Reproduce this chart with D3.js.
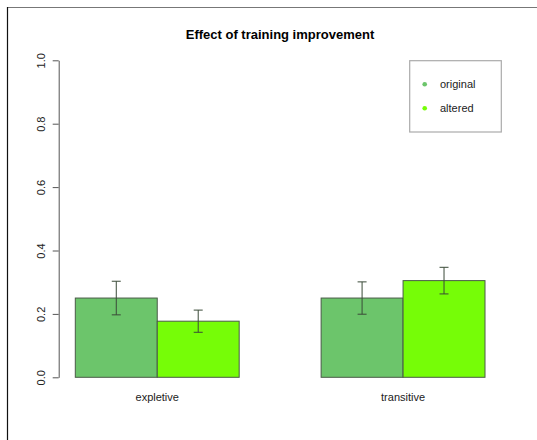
<!DOCTYPE html>
<html>
<head>
<meta charset="utf-8">
<script src="https://cdn.jsdelivr.net/npm/d3@7/dist/d3.min.js"></script>
<style>
  html, body { margin: 0; padding: 0; background: #fff; }
  svg { display: block; font-family: "Liberation Sans", Arial, Helvetica, sans-serif; }
</style>
</head>
<body>
<svg id="chart" width="537" height="440"></svg>
<script>
// Data
const categories = ["expletive", "transitive"];
const seriesNames = ["original", "altered"];
const originalMeans = [0.250, 0.250];
const originalErr = [0.053, 0.051];
const alteredMeans = [0.177, 0.305];
const alteredErr = [0.035, 0.042];
const yTicks = [0.0, 0.2, 0.4, 0.6, 0.8, 1.0];
const colors = ["#6cc56b", "#76fd07"];

const means = [originalMeans, alteredMeans];
const errs = [originalErr, alteredErr];

const svg = d3.select("#chart");

// page frame
svg.append("line").attr("x1", 7).attr("x2", 537).attr("y1", 7.5).attr("y2", 7.5)
  .attr("stroke", "#777").attr("stroke-width", 1.2);
svg.append("line").attr("x1", 7.5).attr("x2", 7.5).attr("y1", 7).attr("y2", 440)
  .attr("stroke", "#111").attr("stroke-width", 1.2);

const y = d3.scaleLinear().domain([0, 1]).range([377.3, 60.3]);
const x0 = d3.scaleBand().domain(categories).range([75.3, 485]).paddingInner(1 / 3).paddingOuter(0);
const x1 = d3.scaleBand().domain(seriesNames).range([0, x0.bandwidth()]);

// title
svg.append("text").attr("x", 280).attr("y", 39).attr("text-anchor", "middle")
  .attr("font-size", 13).attr("font-weight", "bold").attr("fill", "#000")
  .text("Effect of training improvement");

// y axis
const yAxis = svg.append("g").attr("transform", "translate(58.7,0)")
  .call(d3.axisLeft(y).tickValues(yTicks).tickFormat(d3.format(".1f")).tickSize(6).tickSizeOuter(0));
yAxis.select(".domain").attr("stroke", "#555");
yAxis.selectAll(".tick line").attr("stroke", "#555");
yAxis.selectAll(".tick text")
  .attr("font-size", 11).attr("fill", "#222")
  .attr("font-family", "Liberation Sans, Arial, sans-serif")
  .attr("x", 0).attr("dy", "0.35em").attr("text-anchor", "middle")
  .attr("transform", "translate(-17.5,0) rotate(-90)");

// bars with error bars
const groups = svg.append("g").selectAll("g").data(categories).join("g")
  .attr("transform", d => `translate(${x0(d)},0)`);

groups.each(function(cat, ci) {
  const g = d3.select(this);
  seriesNames.forEach((s, si) => {
    const v = means[si][ci];
    const e = errs[si][ci];
    const bx = x1(s);
    const bw = x1.bandwidth();
    g.append("rect")
      .attr("x", bx).attr("y", y(v))
      .attr("width", bw).attr("height", y(0) - y(v))
      .attr("fill", colors[si]).attr("stroke", "#4a5a48").attr("stroke-width", 1);
    const cx = bx + bw / 2;
    const eb = g.append("g").attr("stroke", "#3a4a38").attr("stroke-width", 1);
    eb.append("line").attr("x1", cx).attr("x2", cx).attr("y1", y(v + e)).attr("y2", y(v - e));
    eb.append("line").attr("x1", cx - 4.5).attr("x2", cx + 4.5).attr("y1", y(v + e)).attr("y2", y(v + e));
    eb.append("line").attr("x1", cx - 4.5).attr("x2", cx + 4.5).attr("y1", y(v - e)).attr("y2", y(v - e));
  });
  g.append("text").attr("x", x0.bandwidth() / 2).attr("y", 401)
    .attr("text-anchor", "middle").attr("font-size", 11).attr("fill", "#222")
    .text(cat);
});

// legend
const legend = svg.append("g");
legend.append("rect").attr("x", 409.7).attr("y", 60.7).attr("width", 91.6).attr("height", 71.3)
  .attr("fill", "#fff").attr("stroke", "#aaa").attr("stroke-width", 1.2);
seriesNames.forEach((s, i) => {
  const ly = 84.3 + i * 24;
  legend.append("circle").attr("cx", 424.7).attr("cy", ly).attr("r", 2.3).attr("fill", colors[i]);
  legend.append("text").attr("x", 440).attr("y", ly).attr("dy", "0.35em")
    .attr("font-size", 11).attr("fill", "#222").text(s);
});
</script>
</body>
</html>
